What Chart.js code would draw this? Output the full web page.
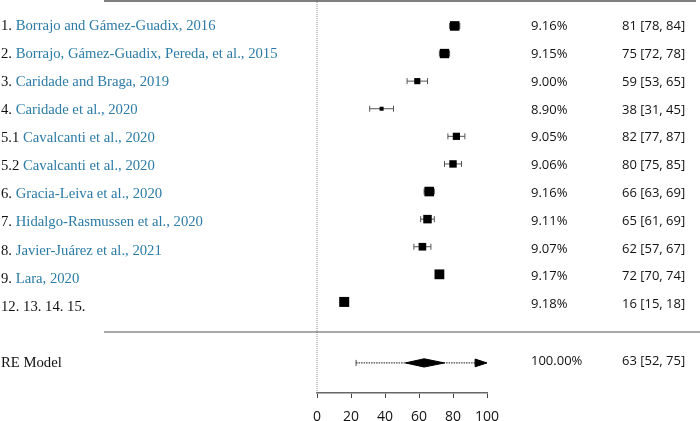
<!DOCTYPE html>
<html><head><meta charset="utf-8">
<script src="https://cdn.jsdelivr.net/npm/chart.js@4/dist/chart.umd.min.js"></script>
<style>html,body{margin:0;padding:0;background:#fff;}#wrap{width:700px;height:421px;position:relative;}</style>
</head><body><div id="wrap"><canvas id="c"></canvas></div>
<script>
const studyNumbers = ["1.", "2.", "3.", "4.", "5.1", "5.2", "6.", "7.", "8.", "9.", "12. 13. 14. 15."];
const studyNames = [
  "Borrajo and Gámez-Guadix, 2016",
  "Borrajo, Gámez-Guadix, Pereda, et al., 2015",
  "Caridade and Braga, 2019",
  "Caridade et al., 2020",
  "Cavalcanti et al., 2020",
  "Cavalcanti et al., 2020",
  "Gracia-Leiva et al., 2020",
  "Hidalgo-Rasmussen et al., 2020",
  "Javier-Juárez et al., 2021",
  "Lara, 2020",
  ""
];
const estimates = [81, 75, 59, 38, 82, 80, 66, 65, 62, 72, 16];
const ciLower   = [78, 72, 53, 31, 77, 75, 63, 61, 57, 70, 15];
const ciUpper   = [84, 78, 65, 45, 87, 85, 69, 69, 67, 74, 18];
const weights   = [9.16, 9.15, 9.00, 8.90, 9.05, 9.06, 9.16, 9.11, 9.07, 9.17, 9.18];
const reLabel = "RE Model";
const reEstimate = 63;
const reLower = 52;
const reUpper = 75;
const reWeight = 100.00;
const piLower = 23;
const piUpper = 100;
const xTicks = [0, 20, 40, 60, 80, 100];

const LEFT_FONT = '14.7px "Liberation Serif", serif';
const RIGHT_FONT = '13px "Open Sans", sans-serif';
const BLUE = '#2b7ba6';

const rowY = i => i + 1;
const reY = 13.21;
const yMin = 0.06, yMax = 14.3;

const wMin = Math.min(...weights), wMax = Math.max(...weights);
const pointRadii = weights.map(w => (4 + (w - wMin) / (wMax - wMin) * 6) / (2 * Math.SQRT1_2));

const datasets = [];
datasets.push({
  type: 'line', data: [{x: 0, y: yMin}, {x: 0, y: yMax}],
  borderColor: '#8a8a8a', borderWidth: 1, borderDash: [1, 1], pointRadius: 0, clip: false, order: 5
});
estimates.forEach((e, i) => {
  datasets.push({
    type: 'line', data: [{x: ciLower[i], y: rowY(i)}, {x: ciUpper[i], y: rowY(i)}],
    borderColor: '#555', borderWidth: 1, pointStyle: 'line', rotation: 90, pointRadius: 3,
    pointBorderColor: '#555', pointBorderWidth: 1, clip: false, order: 4
  });
});
datasets.push({
  type: 'scatter', data: estimates.map((e, i) => ({x: e, y: rowY(i)})),
  pointStyle: 'rect', pointRadius: pointRadii, backgroundColor: '#000', borderColor: '#000',
  pointBorderWidth: 0, clip: false, order: 1
});
const arrowLen = 7, arrowHalf = 0.14, diamondHalf = 0.15;
datasets.push({
  type: 'line', data: [{x: piLower, y: reY}, {x: piUpper - arrowLen, y: reY}],
  borderColor: '#444', borderWidth: 1.2, borderDash: [1.5, 1], pointStyle: 'line', rotation: 90,
  pointRadius: [3, 0], pointBorderColor: '#444', pointBorderWidth: 1, clip: false, order: 3
});
datasets.push({
  type: 'line', data: [{x: piUpper - arrowLen, y: reY - arrowHalf}, {x: piUpper, y: reY}, {x: piUpper - arrowLen, y: reY + arrowHalf}, {x: piUpper - arrowLen, y: reY - arrowHalf}],
  borderColor: '#000', backgroundColor: '#000', borderWidth: 1, fill: 'shape', pointRadius: 0, tension: 0, clip: false, order: 2
});
datasets.push({
  type: 'line', data: [{x: reLower, y: reY}, {x: reEstimate, y: reY - diamondHalf}, {x: reUpper, y: reY}, {x: reEstimate, y: reY + diamondHalf}, {x: reLower, y: reY}],
  borderColor: '#000', backgroundColor: '#000', borderWidth: 1, fill: 'shape', pointRadius: 0, tension: 0, clip: false, order: 1
});

const textPlugin = {
  id: 'forestText',
  afterDraw(chart) {
    const ctx = chart.ctx, ys = chart.scales.y;
    ctx.save();
    ctx.strokeStyle = '#555'; ctx.lineWidth = 1.5;
    ctx.beginPath(); ctx.moveTo(104, 1); ctx.lineTo(696, 1); ctx.stroke();
    const sepY = ys.getPixelForValue(12.09);
    ctx.lineWidth = 1.2;
    ctx.beginPath(); ctx.moveTo(104, sepY); ctx.lineTo(700, sepY); ctx.stroke();
    ctx.textBaseline = 'middle';
    estimates.forEach((e, i) => {
      const y = ys.getPixelForValue(rowY(i));
      const yl = y + 0.5 * i, yr = y + 0.6 + 0.2 * i;
      ctx.font = LEFT_FONT; ctx.textAlign = 'left';
      ctx.fillStyle = '#111';
      const pre = studyNumbers[i];
      ctx.fillText(pre, 1, yl);
      const w = ctx.measureText(pre + ' ').width;
      ctx.fillStyle = BLUE;
      ctx.fillText(studyNames[i], 1 + w, yl);
      ctx.font = RIGHT_FONT; ctx.fillStyle = '#111';
      ctx.fillText(weights[i].toFixed(2) + '%', 531, yr);
      ctx.fillText(`${e} [${ciLower[i]}, ${ciUpper[i]}]`, 622, yr);
    });
    const ry = ys.getPixelForValue(reY);
    ctx.font = LEFT_FONT; ctx.fillStyle = '#111';
    ctx.fillText(reLabel, 1, ry);
    ctx.font = RIGHT_FONT;
    ctx.fillText(reWeight.toFixed(2) + '%', 531, ry - 2);
    ctx.fillText(`${reEstimate} [${reLower}, ${reUpper}]`, 622, ry - 2);
    ctx.restore();
  }
};

new Chart(document.getElementById('c'), {
  type: 'scatter',
  data: {datasets},
  options: {
    responsive: true, maintainAspectRatio: false, animation: false,
    layout: {autoPadding: false, padding: {left: 317, right: 213, top: 0, bottom: 0}},
    plugins: {legend: {display: false}, tooltip: {enabled: false}},
    scales: {
      x: {
        type: 'linear', min: 0, max: 100, position: 'bottom',
        afterBuildTicks: s => { s.ticks = xTicks.map(v => ({value: v})); },
        afterFit: s => { s.height = 28; },
        ticks: {font: {family: '"Open Sans", sans-serif', size: 14}, color: '#111', padding: 11},
        grid: {drawOnChartArea: false, drawTicks: true, tickLength: 5, color: '#444'},
        border: {color: '#666', width: 1.5}
      },
      y: {type: 'linear', reverse: true, min: yMin, max: yMax, display: false}
    }
  },
  plugins: [textPlugin]
});
</script></body></html>
